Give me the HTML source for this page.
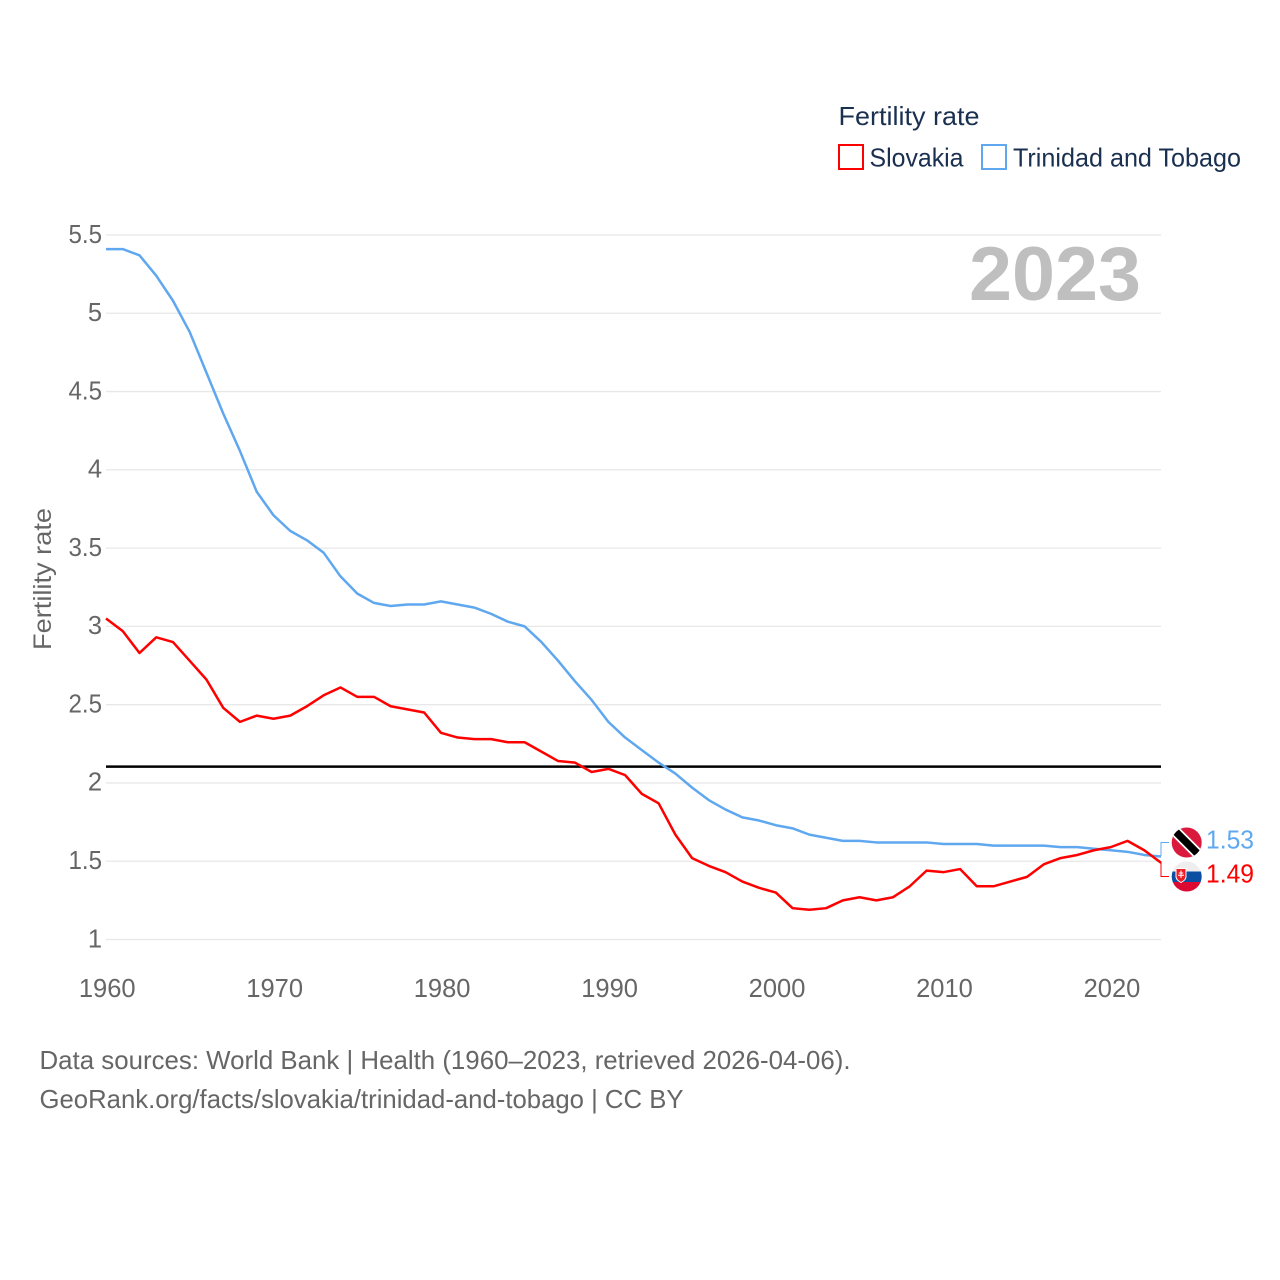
<!DOCTYPE html>
<html lang="en">
<head>
<meta charset="utf-8">
<title>Fertility rate: Slovakia and Trinidad and Tobago</title>
<style>
html,body{margin:0;padding:0;background:#fff;width:1280px;height:1280px;overflow:hidden}
svg{display:block}
text{font-family:"Liberation Sans",sans-serif}
</style>
</head>
<body>
<svg id="chart" xmlns="http://www.w3.org/2000/svg" width="1280" height="1280" viewBox="0 0 1280 1280">
  <defs>
    <clipPath id="clip-tt"><circle cx="1186.7" cy="842.5" r="15"/></clipPath>
    <clipPath id="clip-sk"><circle cx="1186.7" cy="876.5" r="15"/></clipPath>
  </defs>

  <g id="grid"></g>
  <g id="yticks"></g>
  <g id="xticks"></g>

  <text x="969" y="300" font-size="76" font-weight="700" fill="#bfbfbf" textLength="172" lengthAdjust="spacingAndGlyphs" style="font-weight:700">2023</text>

  <text transform="translate(51,650) rotate(-90)" font-size="25" fill="#666666" textLength="142" lengthAdjust="spacingAndGlyphs">Fertility rate</text>

  <line id="ref-line" x1="106" x2="1161" stroke="#000000" stroke-width="2.5"></line>
  <polyline id="line-tt" fill="none" stroke="#5fa8ef" stroke-width="2.5" stroke-linejoin="round"></polyline>
  <polyline id="line-sk" fill="none" stroke="#ff0000" stroke-width="2.5" stroke-linejoin="round"></polyline>

  <polyline id="conn-tt" fill="none" stroke="#5fa8ef" stroke-width="1" points="1161,856 1161,842.5 1169,842.5"></polyline>
  <polyline id="conn-sk" fill="none" stroke="#ff0000" stroke-width="1" points="1161,862 1161,876.5 1169,876.5"></polyline>

  <g clip-path="url(#clip-tt)">
    <rect x="1170" y="826" width="34" height="34" fill="#da1a3d"/>
    <line x1="1170" y1="826" x2="1204" y2="860" stroke="#ffffff" stroke-width="11"/>
    <line x1="1170" y1="826" x2="1204" y2="860" stroke="#000000" stroke-width="7.5"/>
  </g>

  <g clip-path="url(#clip-sk)">
    <rect x="1170" y="860" width="34" height="12" fill="#eeeeee"/>
    <rect x="1170" y="871.5" width="34" height="10.5" fill="#0b4ea2"/>
    <rect x="1170" y="882" width="34" height="12" fill="#dc0a32"/>
    <path d="M1176 868.5h10v8c0 3-2.500 4.500-5 6c-2.500-1.500-5-3-5-6z" fill="#ee1c25" stroke="#ffffff" stroke-width="1"/>
    <path d="M1181 870.500v7.500M1178.800 873h4.400M1178 875.300h6" stroke="#ffffff" stroke-width="1" fill="none"/>
  </g>

  <text x="1206" y="848.500" font-size="25.500" fill="#5fa8ef" textLength="48" lengthAdjust="spacingAndGlyphs">1.53</text>
  <text x="1206" y="882.500" font-size="25.500" fill="#ff0000" textLength="48" lengthAdjust="spacingAndGlyphs">1.49</text>

  <g>
    <text x="838.500" y="125" font-size="26" fill="#1a3050" textLength="141" lengthAdjust="spacingAndGlyphs">Fertility rate</text>
    <rect x="839" y="145" width="24" height="24" fill="#ffffff" stroke="#ff0000" stroke-width="2"/>
    <text x="869.500" y="166.500" font-size="26" fill="#1a3050" textLength="94" lengthAdjust="spacingAndGlyphs">Slovakia</text>
    <rect x="982" y="145" width="24" height="24" fill="#ffffff" stroke="#5fa8ef" stroke-width="2"/>
    <text x="1013" y="166.500" font-size="26" fill="#1a3050" textLength="228" lengthAdjust="spacingAndGlyphs">Trinidad and Tobago</text>
  </g>

  <text x="39.500" y="1069" font-size="26" fill="#666666" textLength="811" lengthAdjust="spacingAndGlyphs">Data sources: World Bank | Health (1960–2023, retrieved 2026-04-06).</text>
  <text x="39.500" y="1108" font-size="26" fill="#666666" textLength="644" lengthAdjust="spacingAndGlyphs">GeoRank.org/facts/slovakia/trinidad-and-tobago | CC BY</text>
</svg>

<script>
const startYear = 1960;
const endYear = 2023;
const yTickValues = [1, 1.5, 2, 2.5, 3, 3.5, 4, 4.5, 5, 5.5];
const xTickValues = [1960, 1970, 1980, 1990, 2000, 2010, 2020];
const referenceValue = 2.1;
const slovakiaValues = [
  3.05, 2.97, 2.83, 2.93, 2.90, 2.78, 2.66, 2.48, 2.39, 2.43,
  2.41, 2.43, 2.49, 2.56, 2.61, 2.55, 2.55, 2.49, 2.47, 2.45,
  2.32, 2.29, 2.28, 2.28, 2.26, 2.26, 2.20, 2.14, 2.13, 2.07,
  2.09, 2.05, 1.93, 1.87, 1.67, 1.52, 1.47, 1.43, 1.37, 1.33,
  1.30, 1.20, 1.19, 1.20, 1.25, 1.27, 1.25, 1.27, 1.34, 1.44,
  1.43, 1.45, 1.34, 1.34, 1.37, 1.40, 1.48, 1.52, 1.54, 1.57,
  1.59, 1.63, 1.57, 1.49
];
const trinidadValues = [
  5.41, 5.41, 5.37, 5.24, 5.08, 4.88, 4.62, 4.36, 4.12, 3.86,
  3.71, 3.61, 3.55, 3.47, 3.32, 3.21, 3.15, 3.13, 3.14, 3.14,
  3.16, 3.14, 3.12, 3.08, 3.03, 3.00, 2.90, 2.78, 2.65, 2.53,
  2.39, 2.29, 2.21, 2.13, 2.06, 1.97, 1.89, 1.83, 1.78, 1.76,
  1.73, 1.71, 1.67, 1.65, 1.63, 1.63, 1.62, 1.62, 1.62, 1.62,
  1.61, 1.61, 1.61, 1.60, 1.60, 1.60, 1.60, 1.59, 1.59, 1.58,
  1.57, 1.56, 1.54, 1.53
];

const NS = 'http://www.w3.org/2000/svg';
function xScale(year) {
  return 106 + (year - startYear) * (1161 - 106) / (endYear - startYear);
}
function yScale(v) {
  return 939.5 - (v - 1) * (939.5 - 235) / 4.5;
}
function linePoints(values) {
  return values.map(function (v, i) {
    return xScale(startYear + i).toFixed(2) + ',' + yScale(v).toFixed(2);
  }).join(' ');
}

const gridGroup = document.getElementById('grid');
const yTickGroup = document.getElementById('yticks');
const xTickGroup = document.getElementById('xticks');

yTickValues.forEach(function (v) {
  const gridLine = document.createElementNS(NS, 'line');
  
  
  gridLine.setAttribute('x1', xScale(startYear));
  gridLine.setAttribute('x2', xScale(endYear));
  gridLine.setAttribute('y1', yScale(v));
  gridLine.setAttribute('y2', yScale(v));
  gridLine.setAttribute('stroke', '#e8e8e8');
  gridLine.setAttribute('stroke-width', '1.3');
  gridGroup.appendChild(gridLine);

  const label = document.createElementNS(NS, 'text');
  
  
  label.setAttribute('x', '102');
  label.setAttribute('y', yScale(v) + 7.8);
  label.setAttribute('text-anchor', 'end');
  label.setAttribute('font-size', '25.5');
  label.setAttribute('fill', '#666666');
  if (String(v).length > 1) {
    label.setAttribute('textLength', '33.5');
    label.setAttribute('lengthAdjust', 'spacingAndGlyphs');
  }
  label.textContent = String(v);
  yTickGroup.appendChild(label);
});

xTickValues.forEach(function (year) {
  const label = document.createElementNS(NS, 'text');
  
  
  label.setAttribute('x', xScale(year) + 1.2);
  label.setAttribute('y', '997');
  label.setAttribute('text-anchor', 'middle');
  label.setAttribute('font-size', '25.5');
  label.setAttribute('fill', '#666666');
  label.textContent = String(year);
  xTickGroup.appendChild(label);
});

const refLine = document.getElementById('ref-line');
refLine.setAttribute('y1', yScale(referenceValue) - 0.7);
refLine.setAttribute('y2', yScale(referenceValue) - 0.7);
document.getElementById('line-tt').setAttribute('points', linePoints(trinidadValues));
document.getElementById('line-sk').setAttribute('points', linePoints(slovakiaValues));
</script>
</body>
</html>
